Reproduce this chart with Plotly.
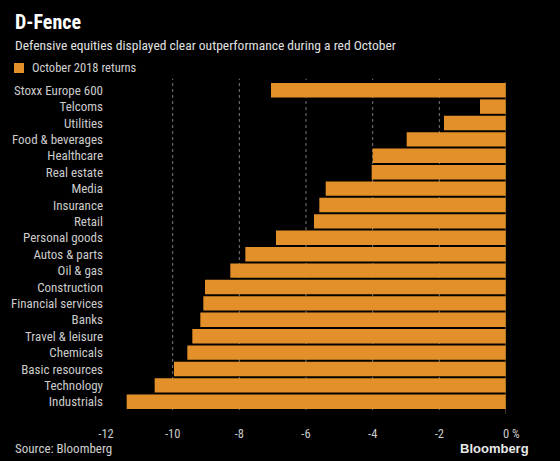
import plotly.graph_objects as go

categories = ["Stoxx Europe 600", "Telcoms", "Utilities", "Food & beverages", "Healthcare",
              "Real estate", "Media", "Insurance", "Retail", "Personal goods", "Autos & parts",
              "Oil & gas", "Construction", "Financial services", "Banks", "Travel & leisure",
              "Chemicals", "Basic resources", "Technology", "Industrials"]
returns = [-7.05, -0.78, -1.86, -2.98, -4.0, -4.03, -5.41, -5.6, -5.76, -6.9, -7.82,
           -8.27, -9.03, -9.08, -9.17, -9.41, -9.56, -9.96, -10.54, -11.38]
tick_vals = [-12, -10, -8, -6, -4, -2, 0]
tick_text = ["-12", "-10", "-8", "-6", "-4", "-2", "0"]
grid_vals = [-10, -8, -6, -4, -2]

FONT = "Liberation Sans Narrow, Roboto Condensed, Roboto, sans-serif"
ORANGE = "#E38F2A"
L, T, W, H = 106, 82, 400, 328

fig = go.Figure()
fig.add_trace(go.Bar(
    x=returns, y=categories, orientation="h",
    marker=dict(color=ORANGE, line=dict(width=0)),
    name="October 2018 returns", showlegend=False,
))

for g in grid_vals:
    fig.add_shape(type="line", xref="x", yref="paper", x0=g, x1=g, y0=0, y1=1.01,
                  line=dict(color="#777777", width=1, dash="dot"), layer="below")
fig.add_shape(type="line", xref="x", yref="paper", x0=0, x1=0, y0=-0.012, y1=1,
              line=dict(color="#8a6020", width=1), layer="above")

fig.update_layout(
    width=560, height=461,
    paper_bgcolor="black", plot_bgcolor="black",
    margin=dict(l=L, r=560 - L - W, t=T, b=461 - T - H),
    bargap=0.12,
    showlegend=False,
    font=dict(family=FONT, color="#d0d0d0", size=13),
    xaxis=dict(range=[-12, 0], tickvals=tick_vals, ticktext=tick_text, showgrid=False,
               zeroline=False, showline=False, ticks="", ticklabelstandoff=14,
               tickfont=dict(size=12.5, color="#cccccc"), fixedrange=True),
    yaxis=dict(categoryorder="array", categoryarray=categories, autorange="reversed",
               showgrid=False, zeroline=False, ticks="", ticklabelstandoff=2,
               tickfont=dict(size=13, color="#cccccc"), fixedrange=True),
)

annotations = [
    dict(text="<b>D-Fence</b>", x=13, y=22, font=dict(size=20, color="white", family=FONT)),
    dict(text="Defensive equities displayed clear outperformance during a red October",
         x=13, y=45, font=dict(size=13.5, color="#e0e0e0", family=FONT)),
    dict(text="October 2018 returns", x=30, y=68, font=dict(size=12.5, color="#d0d0d0", family=FONT)),
    dict(text="Source: Bloomberg", x=13, y=448, font=dict(size=13, color="#d0d0d0", family=FONT)),
    dict(text="<b>Bloomberg</b>", x=458, y=448, font=dict(size=13, color="#e8e8e8", family="Liberation Sans, Arial, sans-serif")),
    dict(text="%", x=510, y=434, font=dict(size=12, color="#cccccc", family=FONT)),
]
for a in annotations:
    fig.add_annotation(text=a["text"], xref="paper", yref="paper",
                       x=(a["x"] - L) / W, y=1 - (a["y"] - T) / H,
                       xanchor="left", yanchor="middle", showarrow=False, font=a["font"])

fig.add_shape(type="rect", xref="paper", yref="paper",
              x0=(14 - L) / W, x1=(24 - L) / W,
              y0=1 - (73 - T) / H, y1=1 - (63 - T) / H,
              fillcolor=ORANGE, line=dict(width=0))

fig.write_html("out.html", config=dict(displayModeBar=False),
               post_script="document.body.style.margin='0';document.body.style.overflow='hidden';")
